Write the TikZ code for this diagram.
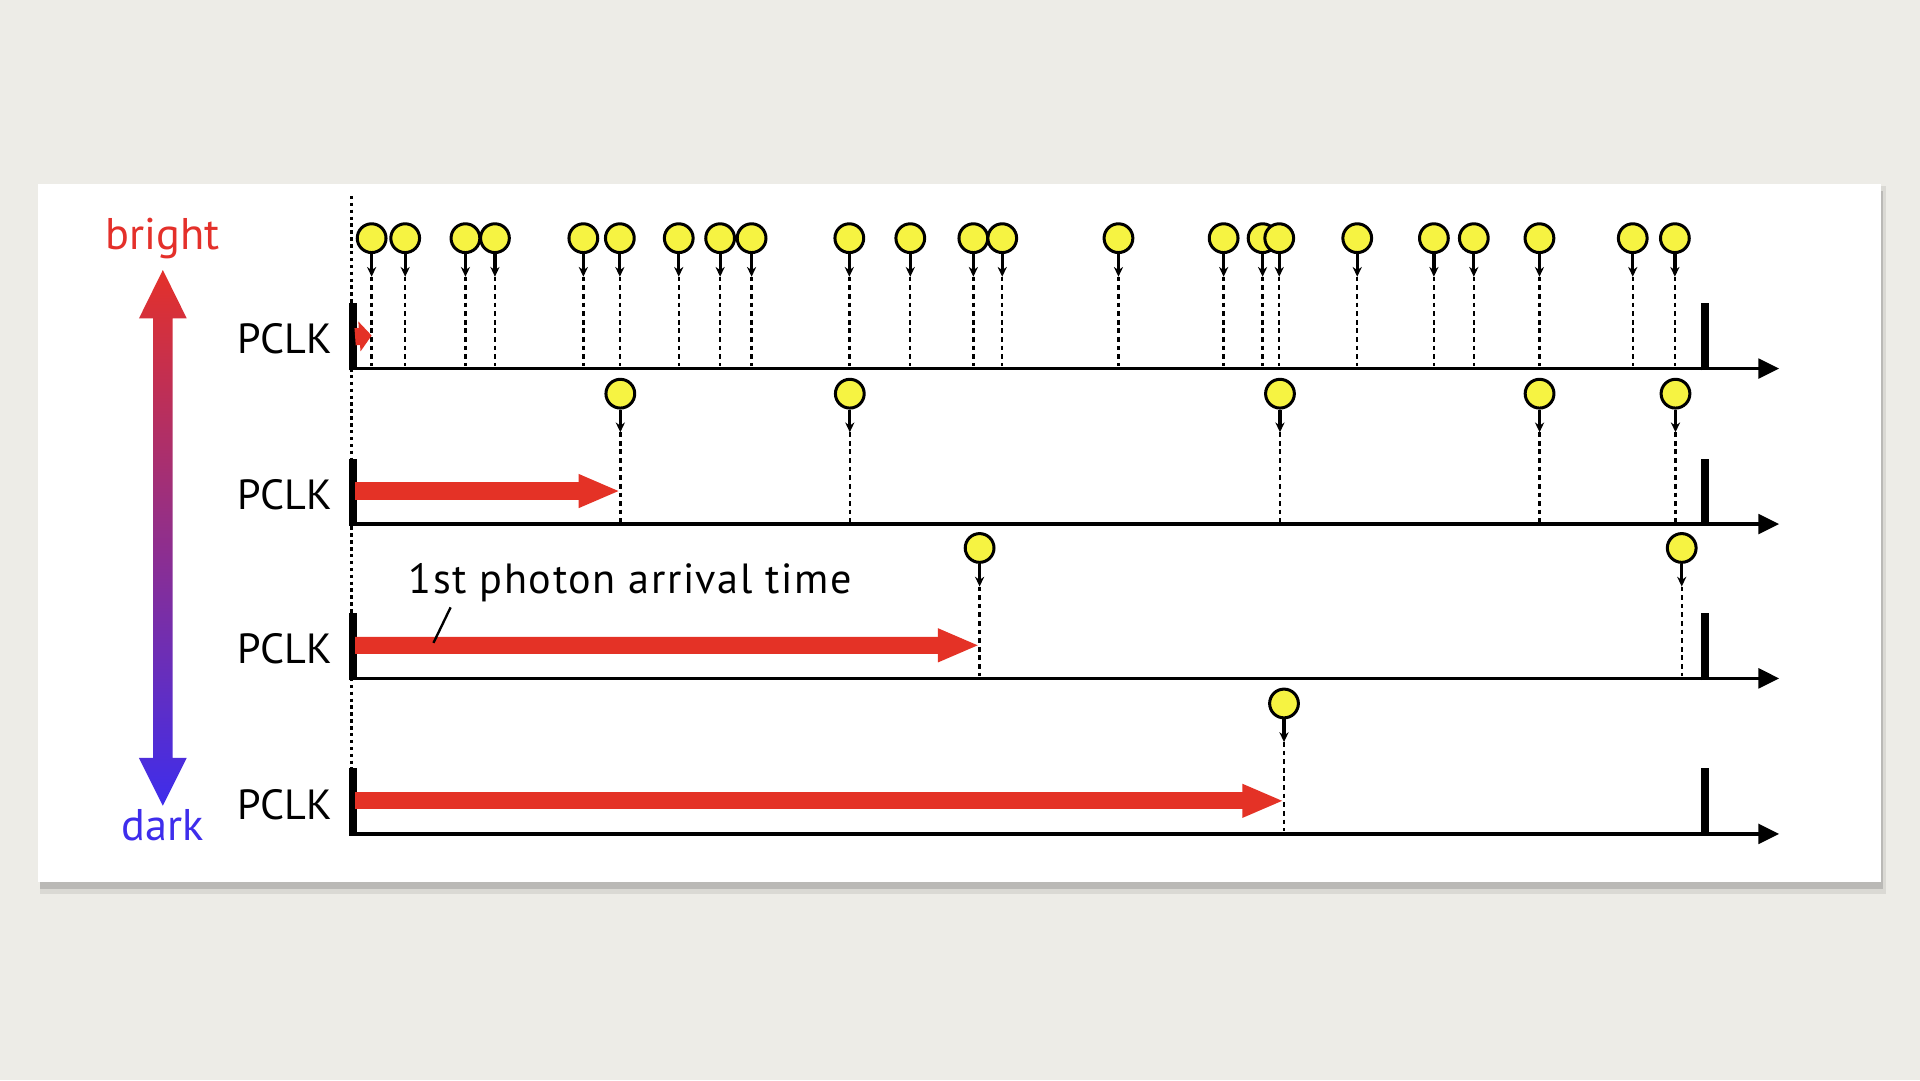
\documentclass[tikz,border=0pt]{standalone}
\usepackage{fontspec}
\setmainfont{PT Sans}
\usetikzlibrary{arrows.meta, shadows}

\definecolor{paper}{RGB}{237,236,231}
\definecolor{photonyellow}{RGB}{246,243,66}
\definecolor{delayred}{RGB}{228,50,38}
\definecolor{brightred}{RGB}{228,48,42}
\definecolor{midpurple}{RGB}{178,52,212}
\definecolor{darkblue}{RGB}{62,45,236}

\begin{document}
\begin{tikzpicture}[
    photon/.style={circle, draw=black, line width=0.7pt, fill=photonyellow, minimum size=0.235cm, inner sep=0pt},
    stem/.style={line width=0.75pt, -{Stealth[length=0.08cm, width=0.075cm]}},
    trace/.style={line width=0.55pt, dash pattern=on 1.1pt off 0.9pt},
    guide/.style={line width=0.55pt, dash pattern=on 0.8pt off 0.8pt},
    timeaxis/.style={line width=0.85pt, -{Triangle[length=0.17cm, width=0.16cm]}},
    clkbar/.style={line width=0.065cm},
    delay/.style={draw=delayred, line width=0.14cm, -{Triangle[length=0.34cm, width=0.25cm]}},
    clk/.style={font=\fontsize{9.8}{12}\selectfont, anchor=base east, inner sep=0pt},
    scalelabel/.style={font=\fontsize{10.3}{12}\selectfont, anchor=base, inner sep=0pt}
]
\useasboundingbox (0,0) rectangle (15.68,8.82);
\fill[paper] (0,0) rectangle (15.68,8.82);
\fill[black, opacity=0.08] (0.33,1.52) rectangle (15.40,7.30);
\fill[white, drop shadow={shadow xshift=0.02cm, shadow yshift=-0.06cm, opacity=0.35}] (0.31,1.62) rectangle (15.36,7.32);

% brightness scale
\shade[top color=brightred, middle color=midpurple, bottom color=darkblue]
    (1.33,6.615) -- (1.525,6.22) -- (1.41,6.22) -- (1.41,2.63) -- (1.525,2.63) -- (1.33,2.24)
    -- (1.135,2.63) -- (1.25,2.63) -- (1.25,6.22) -- (1.135,6.22) -- cycle;
\node[scalelabel, text=brightred] (bright) at (1.33,6.78) {bright};
\node[scalelabel, text=darkblue] (dark) at (1.33,1.96) {dark};

% start of the clock period
\draw[guide] (2.87,7.22) -- (2.87,2.54);

% time axes
\foreach \r/\y in {1/5.81, 2/4.54, 3/3.28, 4/2.01} {
    \coordinate (o\r) at (2.87,\y);
    \draw[timeaxis] (o\r) -- ++(11.66,0);
    \draw[clkbar] ([shift={(0.01,-0.015)}]o\r) -- ++(0,0.55);
    \draw[clkbar] (13.925,\y-0.015) -- (13.925,\y+0.535);
    \node[clk] (pclk\r) at (2.72,\y+0.12) {PCLK};
}

% photons
\foreach \r/\y/\xs in {
    1/5.81/{3.035,3.309,3.801,4.042,4.764,5.062,5.543,5.881,6.138,6.936,7.434,7.949,8.185,9.134,9.993,10.311,10.447,11.084,11.710,12.036,12.572,13.334,13.678},
    2/4.54/{5.066,6.940,10.453,12.573,13.683},
    3/3.28/{8.000,13.734},
    4/2.01/{10.486}} {
    \foreach \x [count=\i] in \xs {
        \node[photon] (ph\r-\i) at (\x,\y+1.065) {};
        \coordinate (tip\r-\i) at (\x,\y+0.75);
        \draw[stem] (ph\r-\i.south) -- (tip\r-\i);
        \draw[trace] (tip\r-\i) -- (\x,\y+0.02);
        \ifnum\i=1 \coordinate (hit\r) at (\x,\y+0.27); \fi
    }
}

% time to first photon
\draw[delay, -{Triangle[length=0.1cm, width=0.24cm]}] ([shift={(0.03,0.26)}]o1) -- (hit1);
\draw[delay] ([shift={(0.03,0.27)}]o2) -- (hit2);
\draw[delay] ([shift={(0.03,0.27)}]o3) -- (hit3);
\draw[delay] ([shift={(0.03,0.27)}]o4) -- (hit4);

\node[font=\fontsize{9.8}{11}\selectfont\addfontfeatures{LetterSpace=3.8}, anchor=base west, inner sep=0pt] (firstlabel) at (3.33,3.975) {1st photon arrival time};
\coordinate (leader) at (3.54,3.57);
\draw[line width=0.55pt] ([shift={(0.35,-0.115)}]firstlabel.base west) -- (leader);

\end{tikzpicture}
\end{document}
